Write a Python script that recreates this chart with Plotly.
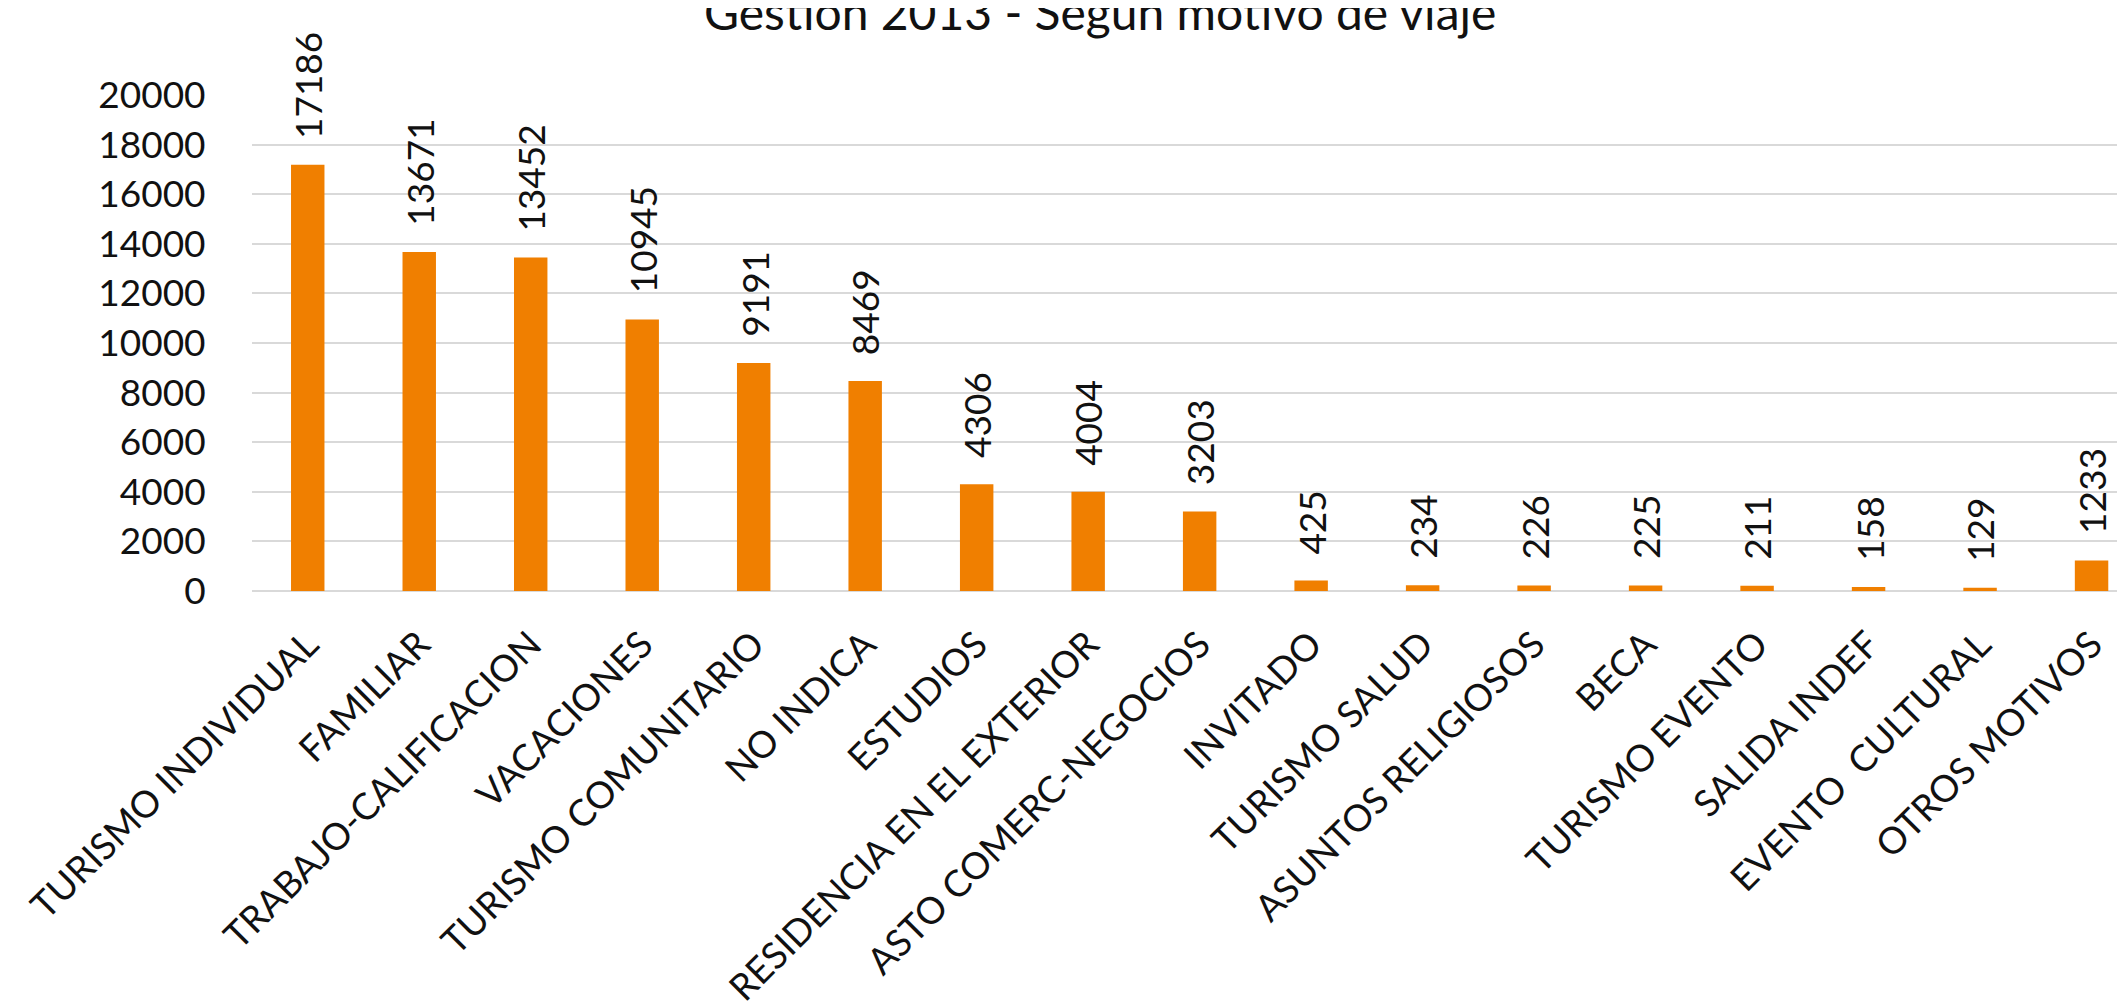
import plotly.graph_objects as go

categories = ["TURISMO INDIVIDUAL", "FAMILIAR", "TRABAJO-CALIFICACION", "VACACIONES",
              "TURISMO COMUNITARIO", "NO INDICA", "ESTUDIOS", "RESIDENCIA EN EL EXTERIOR",
              "ASTO COMERC-NEGOCIOS", "INVITADO", "TURISMO SALUD", "ASUNTOS RELIGIOSOS",
              "BECA", "TURISMO EVENTO", "SALIDA INDEF", "EVENTO  CULTURAL", "OTROS MOTIVOS"]
values = [17186, 13671, 13452, 10945, 9191, 8469, 4306, 4004, 3203,
          425, 234, 226, 225, 211, 158, 129, 1233]
y_ticks = list(range(0, 20001, 2000))
title_text = "Gestion 2013 - Segun motivo de viaje"

FONT = "Lato, 'Open Sans', sans-serif"
TXT = "#111111"

fig = go.Figure()
fig.add_trace(go.Bar(
    x=list(range(len(categories))), y=values,
    marker=dict(color="#F07F00", line=dict(width=0)),
    width=0.30, hoverinfo="x+y",
))

annotations = []
for i, v in enumerate(values):
    annotations.append(dict(
        x=i, y=v, xref="x", yref="y", text=str(v), showarrow=False,
        textangle=-90, yanchor="bottom", xanchor="center", yshift=24,
        font=dict(family=FONT, size=37, color=TXT),
    ))
annotations.append(dict(
    x=0.4525, y=1.106, xref="paper", yref="paper", text=title_text, showarrow=False,
    xanchor="center", yanchor="bottom", font=dict(family=FONT, size=48, color=TXT),
))

fig.update_layout(
    width=2117, height=999,
    margin=dict(l=244, r=0, t=87, b=416, autoexpand=False),
    paper_bgcolor="white", plot_bgcolor="white",
    showlegend=False,
    annotations=annotations,
    font=dict(family=FONT, color=TXT),
)
fig.update_xaxes(
    tickmode="array", tickvals=list(range(len(categories))), ticktext=categories,
    range=[-0.5, 16.3], tickangle=-45, automargin=False,
    tickfont=dict(family=FONT, size=37, color=TXT),
    ticks="outside", ticklen=16, tickcolor="rgba(0,0,0,0)",
    showgrid=False, showline=False, zeroline=False,
)
fig.update_yaxes(
    range=[0, 20000], tickmode="array", tickvals=y_ticks, ticktext=[str(t) for t in y_ticks],
    automargin=False,
    tickfont=dict(family=FONT, size=37, color=TXT),
    ticks="outside", ticklen=38, tickcolor="rgba(0,0,0,0)",
    showgrid=True, gridcolor="#D9D9D9", gridwidth=2,
    zeroline=True, zerolinecolor="#D9D9D9", zerolinewidth=2,
    showline=False,
)

fig.write_html("out.html")
